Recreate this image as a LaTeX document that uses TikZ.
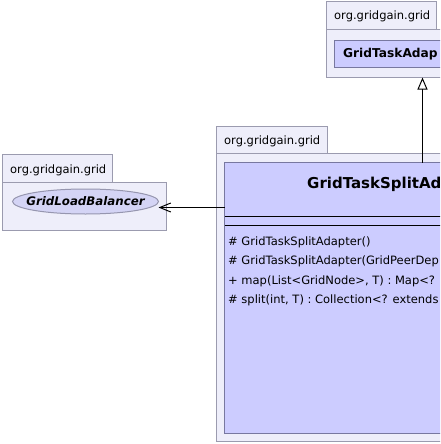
\documentclass[tikz,border=0pt]{standalone}
\usepackage{fontspec}
\setmainfont{DejaVu Sans}
\usetikzlibrary{shapes.geometric,arrows.meta}
\definecolor{pkgfill}{RGB}{238,238,250}
\definecolor{pkgline}{RGB}{155,155,175}
\definecolor{clsfill}{RGB}{204,204,255}
\definecolor{clsline}{RGB}{120,120,160}
\definecolor{ellfill}{RGB}{212,212,245}
\definecolor{ellline}{RGB}{150,150,175}
\begin{document}
\begin{tikzpicture}[x=1pt,y=-1pt,
  pkg/.style={draw=pkgline, fill=pkgfill, line width=1pt},
  cls/.style={draw=clsline, fill=clsfill, line width=1pt},
  pkglabel/.style={anchor=base west, inner sep=0pt, font=\fontsize{11.5}{13}\selectfont},
  clsname/.style={anchor=base west, inner sep=0pt, font=\bfseries\fontsize{12.2}{14}\selectfont},
  bigname/.style={anchor=base west, inner sep=0pt, font=\bfseries\fontsize{15}{17}\selectfont},
  member/.style={anchor=base west, inner sep=0pt, font=\fontsize{11.5}{13}\selectfont},
  sep/.style={draw=black, line width=1pt}]
\useasboundingbox (0,0) rectangle (440,444);
\clip (0,0) rectangle (440,444);

% top package
\path[pkg] (326.5,1.5) rectangle (436.5,29.5);
\path[pkg] (326.5,29.5) rectangle (460,77.5);
\node[pkglabel] (ptoplbl) at (334,19.7) {org.gridgain.grid};
\path[cls] (334.5,40.5) rectangle (460,67.5);
\node[clsname] (adapter) at (343,57.5) {GridTaskAdap};
\coordinate (adapterbottom) at (422.5,77.5);

% left package
\path[pkg] (2.5,154.5) rectangle (112.5,182.5);
\path[pkg] (2.5,182.5) rectangle (166.5,230.5);
\node[pkglabel] (pleftlbl) at (10,173) {org.gridgain.grid};
\node[ellipse, draw=ellline, fill=ellfill, line width=1pt, minimum width=146pt, minimum height=25pt, inner sep=0pt] (glb) at (85.5,201.5) {};
\node[inner sep=0pt, font=\bfseries\itshape\fontsize{11.8}{13}\selectfont] (glbtext) at (glb.center) {GridLoadBalancer};

% middle package
\path[pkg] (216.5,126.5) rectangle (327.5,153.5);
\path[pkg] (216.5,153.5) rectangle (460,441.5);
\node[pkglabel] (pmidlbl) at (224,144.7) {org.gridgain.grid};
\path[cls] (224.5,162.5) rectangle (460,433.5);
\node[bigname] (split) at (307,188) {GridTaskSplitAd};
\draw[sep] (224.5,216.5) -- (460,216.5);
\draw[sep] (224.5,225.5) -- (460,225.5);
\node[member] (m1) at (228,245) {\# GridTaskSplitAdapter()};
\node[member] (m2) at (228,264) {\# GridTaskSplitAdapter(GridPeerDep};
\node[member] (m3) at (228,284.5) {+ map(List<GridNode>, T) : Map<?};
\node[member] (m4) at (228,303) {\# split(int, T) : Collection<? extends};

% connectors
\coordinate (splittop) at (422.5,162.5);
\coordinate (splitleft) at (224.5,207.5);
\coordinate (glbend) at (158.5,207.5);
\draw[line width=1pt, -{Triangle[open, length=12pt, width=10pt, line width=1pt]}] (splittop) -- (adapterbottom);
\draw[line width=1pt, -{Straight Barb[length=11pt, width=9pt, line width=1pt]}] (splitleft) -- (glbend);
\end{tikzpicture}
\end{document}
